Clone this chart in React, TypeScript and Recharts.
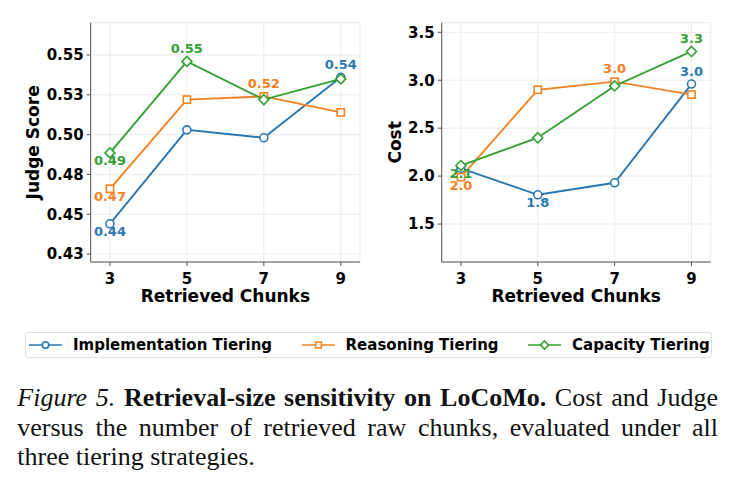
import { CartesianGrid, LabelList, Line, LineChart, XAxis, YAxis } from "recharts"

// x positions: number of retrieved raw chunks
const chunks = [3, 5, 7, 9]

// Judge score per tiering strategy
const judgeImplementation = [0.444, 0.503, 0.498, 0.536]
const judgeReasoning = [0.466, 0.522, 0.524, 0.514]
const judgeCapacity = [0.4885, 0.546, 0.522, 0.535]

// Cost per tiering strategy
const costImplementation = [2.08, 1.805, 1.93, 2.96]
const costReasoning = [1.99, 2.9, 2.985, 2.85]
const costCapacity = [2.11, 2.4, 2.94, 3.3]

const judgeTicks = [0.425, 0.45, 0.475, 0.5, 0.525, 0.55]
const judgeTickLabels = ["0.43", "0.45", "0.48", "0.50", "0.53", "0.55"]
const costTicks = [1.5, 2.0, 2.5, 3.0, 3.5]
const costTickLabels = ["1.5", "2.0", "2.5", "3.0", "3.5"]
const chunkTicks = [3, 5, 7, 9]

const seriesNames = ["Implementation Tiering", "Reasoning Tiering", "Capacity Tiering"]
const seriesColors = ["#2a77b2", "#f58020", "#31a031"]
const seriesShapes = ["circle", "square", "diamond"]

const SANS = "'DejaVu Sans', Verdana, sans-serif"
const SERIF = "'Liberation Serif', 'Times New Roman', serif"

function Marker({ shape, cx, cy, color, scale = 1 }: { shape: string; cx: number; cy: number; color: string; scale?: number }) {
  const common = { fill: "#fff", stroke: color, strokeWidth: 1.6 }
  if (shape === "square") {
    const h = 3.6 * scale
    return <rect x={cx - h} y={cy - h} width={2 * h} height={2 * h} {...common} />
  }
  if (shape === "diamond") {
    const r = 5 * scale
    return <polygon points={`${cx},${cy - r} ${cx + r},${cy} ${cx},${cy + r} ${cx - r},${cy}`} {...common} />
  }
  return <circle cx={cx} cy={cy} r={4 * scale} {...common} />
}

// only the lowest and highest point of each line gets a value label
function extremeLabel(values: number[], color: string, digits: number) {
  const hi = values.indexOf(Math.max(...values))
  const lo = values.indexOf(Math.min(...values))
  return (props: any) => {
    const index = props.index ?? values.indexOf(props.value)
    if (index !== hi && index !== lo) return null
    const x = props.x ?? props.viewBox?.x
    const y = props.y ?? props.viewBox?.y
    return (
      <text
        x={x}
        y={index === hi ? y - 8.5 : y + 12.5}
        textAnchor="middle"
        fill={color}
        fontSize={13}
        fontWeight="bold"
        fontFamily={SANS}
      >
        {values[index].toFixed(digits)}
      </text>
    )
  }
}

type PanelProps = {
  series: number[][]
  domain: [number, number]
  ticks: number[]
  tickLabels: string[]
  digits: number
  title: string
  width: number
  yAxisWidth: number
  rightMargin: number
  titleX: number
}

function Panel({ series, domain, ticks, tickLabels, digits, title, width, yAxisWidth, rightMargin, titleX }: PanelProps) {
  const rows = chunks.map((c, i) => ({ chunks: c, s0: series[0][i], s1: series[1][i], s2: series[2][i] }))
  const top = 22.7
  const height = 310
  const xAxisHeight = 48
  const plotMid = top + (height - top - xAxisHeight) / 2

  return (
    <LineChart width={width} height={height} data={rows} margin={{ top, right: rightMargin, bottom: 0, left: 0 }}>
      <CartesianGrid stroke="#e6e6e6" strokeWidth={0.8} />
      <XAxis
        dataKey="chunks"
        type="number"
        domain={[2.5, 9.5]}
        ticks={chunkTicks}
        height={xAxisHeight}
        stroke="#555"
        tickSize={4}
        tickMargin={7}
        tick={{ fill: "#000", fontSize: 15, fontWeight: "bold", fontFamily: SANS }}
        label={{
          value: "Retrieved Chunks",
          position: "insideBottom",
          offset: 8.3,
          fill: "#000",
          fontSize: 17,
          fontWeight: "bold",
          fontFamily: SANS,
        }}
      />
      <YAxis
        type="number"
        domain={domain}
        ticks={ticks}
        width={yAxisWidth}
        stroke="#555"
        tickSize={4}
        tickMargin={3}
        tickFormatter={(v: number) => tickLabels[ticks.indexOf(v)]}
        tick={{ fill: "#000", fontSize: 15, fontWeight: "bold", fontFamily: SANS }}
        label={() => (
          <text
            x={titleX}
            y={plotMid}
            transform={`rotate(-90 ${titleX} ${plotMid})`}
            textAnchor="middle"
            fill="#000"
            fontSize={17}
            fontWeight="bold"
            fontFamily={SANS}
          >
            {title}
          </text>
        )}
      />
      {series.map((values, i) => (
        <Line
          key={seriesNames[i]}
          dataKey={`s${i}`}
          name={seriesNames[i]}
          stroke={seriesColors[i]}
          strokeWidth={1.9}
          isAnimationActive={false}
          dot={(p: any) => (
            <Marker key={`dot-${i}-${p.index}`} shape={seriesShapes[i]} cx={p.cx} cy={p.cy} color={seriesColors[i]} />
          )}
          activeDot={false}
        >
          <LabelList dataKey={`s${i}`} content={extremeLabel(values, seriesColors[i], digits)} />
        </Line>
      ))}
    </LineChart>
  )
}

function TieringLegend() {
  return (
    <div
      style={{
        position: "absolute",
        left: 25,
        top: 331.7,
        width: 686.7,
        height: 26,
        boxSizing: "border-box",
        border: "1px solid #dedede",
        borderRadius: 3,
        background: "#fff",
        display: "flex",
        alignItems: "center",
        paddingLeft: 3,
        fontFamily: SANS,
        fontWeight: "bold",
        fontSize: 15,
        color: "#000",
      }}
    >
      {seriesNames.map((name, i) => (
        <div key={name} style={{ display: "flex", alignItems: "center", marginLeft: i === 0 ? 0 : 29.5 }}>
          <svg width={33} height={14} style={{ display: "block" }}>
            <line x1={0} y1={7} x2={33} y2={7} stroke={seriesColors[i]} strokeWidth={1.7} />
            <Marker shape={seriesShapes[i]} cx={16.5} cy={7} color={seriesColors[i]} scale={0.8} />
          </svg>
          <span style={{ marginLeft: 11, whiteSpace: "nowrap" }}>{name}</span>
        </div>
      ))}
    </div>
  )
}

export default function App() {
  return (
    <div style={{ position: "absolute", left: 0, top: 0, width: 735, height: 490, background: "#fff", overflow: "hidden" }}>
      <div style={{ position: "absolute", left: 0, top: 0 }}>
        <Panel
          series={[judgeImplementation, judgeReasoning, judgeCapacity]}
          domain={[0.42, 0.5703]}
          ticks={judgeTicks}
          tickLabels={judgeTickLabels}
          digits={2}
          title="Judge Score"
          width={370}
          yAxisWidth={90.7}
          rightMargin={10}
          titleX={39.3}
        />
      </div>
      <div style={{ position: "absolute", left: 370, top: 0 }}>
        <Panel
          series={[costImplementation, costReasoning, costCapacity]}
          domain={[1.104, 3.6]}
          ticks={costTicks}
          tickLabels={costTickLabels}
          digits={1}
          title="Cost"
          width={365}
          yAxisWidth={71.7}
          rightMargin={24.3}
          titleX={30.7}
        />
      </div>
      <TieringLegend />
      <div
        style={{
          position: "absolute",
          left: 17.3,
          top: 383.3,
          width: 700.7,
          fontFamily: SERIF,
          fontSize: 26,
          lineHeight: "29.2px",
          textAlign: "justify",
          color: "#111",
        }}
      >
        <i>Figure 5.</i> <b>Retrieval-size sensitivity on LoCoMo.</b> Cost and Judge versus the number of retrieved raw
        chunks, evaluated under all three tiering strategies.
      </div>
    </div>
  )
}
